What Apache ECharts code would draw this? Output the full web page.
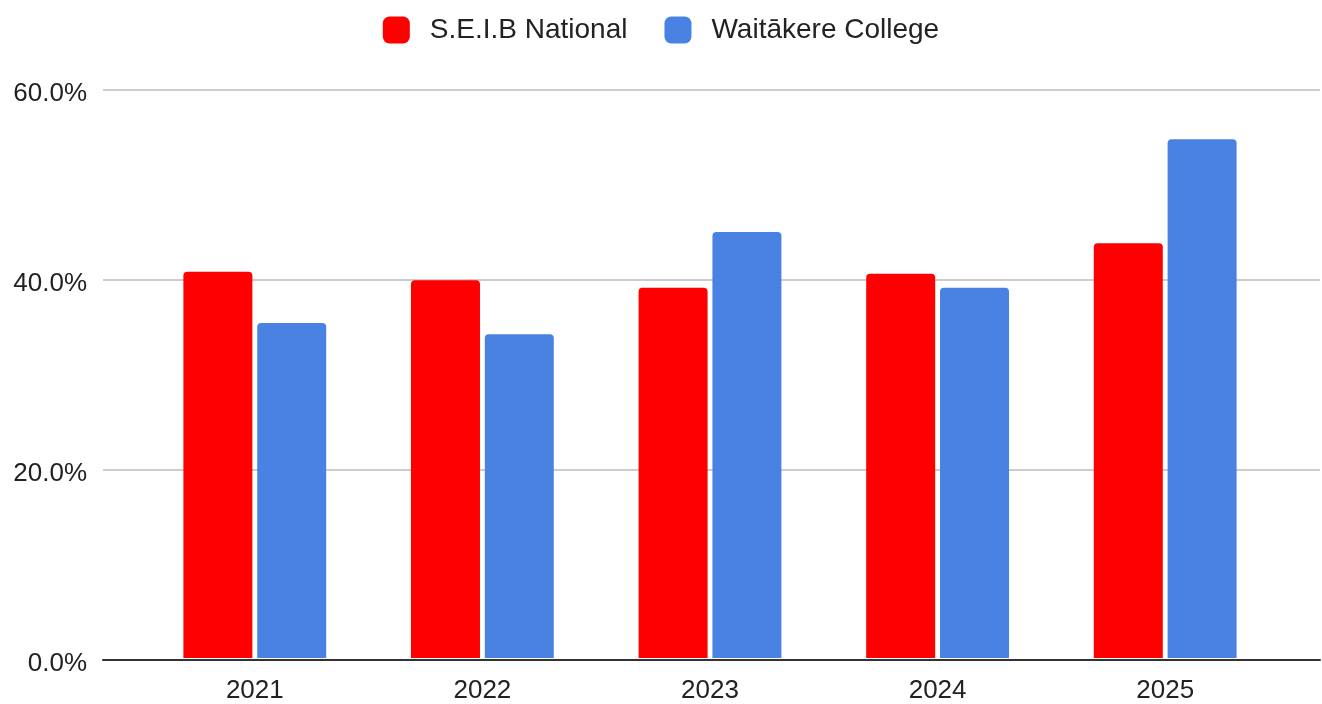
<!DOCTYPE html>
<html>
<head>
<meta charset="utf-8">
<script src="https://cdn.jsdelivr.net/npm/echarts@6/dist/echarts.min.js"></script>
<style>
html,body{margin:0;padding:0;background:#fff;}
#chart{width:1322px;height:704px;}
</style>
</head>
<body>
<div id="chart"></div>
<script>
const years = ['2021', '2022', '2023', '2024', '2025'];
const seibNational = [40.8, 39.9, 39.1, 40.6, 43.8];
const waitakereCollege = [35.4, 34.2, 45.0, 39.1, 54.8];
const seriesNames = ['S.E.I.B National', 'Waitākere College'];
const yTicks = { min: 0, max: 60, interval: 20 };

const FONT = '"Liberation Sans", Arial, sans-serif';
const chart = echarts.init(document.getElementById('chart'));
chart.setOption({
  animation: false,
  backgroundColor: '#ffffff',
  textStyle: { fontFamily: FONT },
  legend: {
    top: 11,
    left: 'center',
    itemWidth: 27,
    itemHeight: 27,
    itemGap: 37,
    icon: 'roundRect',
    textStyle: { fontSize: 28, color: '#222', fontFamily: FONT, padding: [0, 0, 0, 15] },
    data: seriesNames
  },
  grid: [
    { left: 103, right: 2, top: 90, bottom: 44, containLabel: false },
    { left: 141, right: 43, top: 90, bottom: 44, containLabel: false }
  ],
  xAxis: [
    {
      gridIndex: 0, type: 'value', min: 0, max: 1,
      axisLine: { show: true, lineStyle: { color: '#333', width: 2 } },
      axisTick: { show: false }, axisLabel: { show: false }, splitLine: { show: false }
    },
    {
      gridIndex: 1, type: 'category', data: years,
      axisLine: { show: false }, axisTick: { show: false },
      axisLabel: { fontSize: 26, color: '#222', margin: 20, fontFamily: FONT },
      splitLine: { show: false }
    }
  ],
  yAxis: [
    {
      gridIndex: 0, type: 'value', min: yTicks.min, max: yTicks.max, interval: yTicks.interval,
      axisLine: { show: false }, axisTick: { show: false },
      axisLabel: { color: '#222', margin: 16, fontFamily: FONT,
        formatter: v => '{a|' + v.toFixed(1) + '%}',
        rich: { a: { fontSize: 26, color: '#222', fontFamily: FONT, padding: [8, 0, 0, 0] } } },
      splitLine: { show: true, lineStyle: { color: '#cccccc', width: 2 } }
    },
    {
      gridIndex: 1, type: 'value', min: yTicks.min, max: yTicks.max, interval: yTicks.interval,
      show: false, splitLine: { show: false }
    }
  ],
  series: [
    {
      name: seriesNames[0], type: 'bar', xAxisIndex: 1, yAxisIndex: 1,
      data: seibNational, barWidth: 69, barGap: '7%',
      itemStyle: { color: '#ff0000', borderRadius: [4, 4, 0, 0] }
    },
    {
      name: seriesNames[1], type: 'bar', xAxisIndex: 1, yAxisIndex: 1,
      data: waitakereCollege, barWidth: 69, barGap: '7%',
      itemStyle: { color: '#4a82e3', borderRadius: [4, 4, 0, 0] }
    }
  ]
});
</script>
</body>
</html>
